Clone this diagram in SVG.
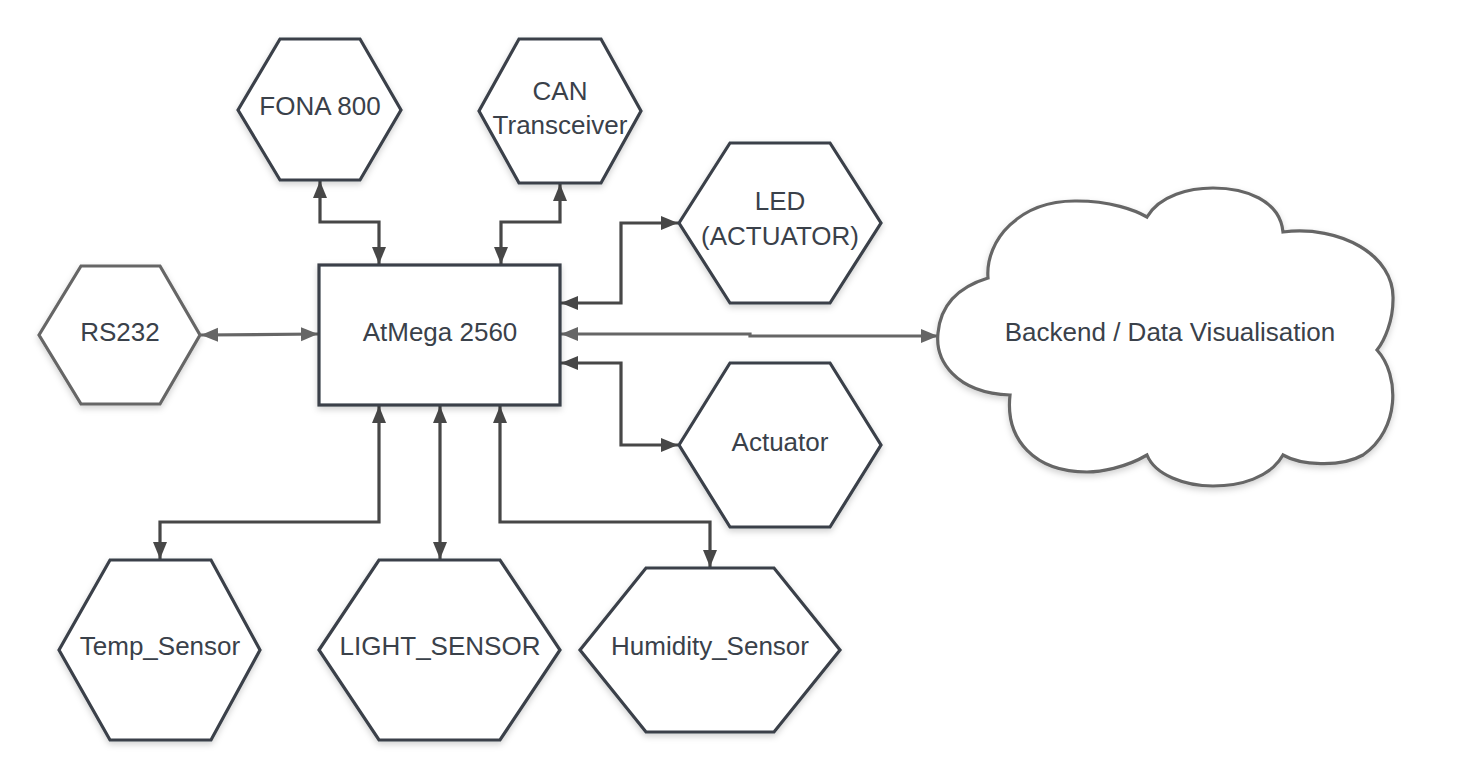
<svg xmlns="http://www.w3.org/2000/svg" width="1463" height="780" viewBox="0 0 1463 780">
<defs>
<style>
.shape{fill:#fff;stroke:#3a414a;stroke-width:3.2;stroke-linejoin:miter;filter:url(#sh)}
.gray{stroke:#666}
.lbl{font-family:"Liberation Sans",Arial,sans-serif;font-size:26px;fill:#3a414a;text-anchor:middle}
.conn{fill:none;stroke:#474747;stroke-width:3.2;marker-start:url(#ah);marker-end:url(#ah)}
.conn.g{stroke:#666;marker-start:url(#ahg);marker-end:url(#ahg)}
</style>
<filter id="sh" x="-10%" y="-10%" width="120%" height="130%">
<feDropShadow dx="0" dy="3" stdDeviation="3" flood-color="#000" flood-opacity="0.18"/>
</filter>
<marker id="ah" markerUnits="userSpaceOnUse" markerWidth="18" markerHeight="15" refX="17" refY="7" orient="auto-start-reverse">
<path d="M0,0 L17,7 L0,14 z" fill="#474747"/>
</marker>
<marker id="ahg" markerUnits="userSpaceOnUse" markerWidth="18" markerHeight="15" refX="17" refY="7" orient="auto-start-reverse">
<path d="M0,0 L17,7 L0,14 z" fill="#666"/>
</marker>
</defs>
<rect width="1463" height="780" fill="#fff"/>
<g id="connectors">
<path class="conn" d="M320,181 V222 H379 V264"/>
<path class="conn" d="M560,184 V222 H501 V264"/>
<path class="conn" d="M561,303 H621 V223 H678"/>
<path class="conn g" d="M561,334 H750 V336 H938"/>
<path class="conn" d="M561,363 H621 V445 H678"/>
<path class="conn g" d="M201,335 L318,334"/>
<path class="conn" d="M379,406 V522 H160 V559"/>
<path class="conn" d="M440,406 V559"/>
<path class="conn" d="M500,406 V522 H710 V567"/>
</g>
<g id="atmega">
<rect class="shape" x="319" y="265" width="241" height="140"/>
<text class="lbl" x="440" y="341">AtMega 2560</text>
</g>
<g id="fona">
<polygon class="shape" points="238,110 280,39 360,39 401,110 360,180 280,180"/>
<text class="lbl" x="320" y="115">FONA 800</text>
</g>
<g id="can">
<polygon class="shape" points="479,111 519,39 601,39 641,111 601,183 519,183"/>
<text class="lbl" x="560" y="100">CAN</text>
<text class="lbl" x="560" y="134">Transceiver</text>
</g>
<g id="led">
<polygon class="shape" points="679,223 730,143 830,143 881,223 830,303 730,303"/>
<text class="lbl" x="780" y="210">LED</text>
<text class="lbl" x="780" y="245">(ACTUATOR)</text>
</g>
<g id="actuator">
<polygon class="shape" points="679,445 730,363 830,363 881,445 830,527 730,527"/>
<text class="lbl" x="780" y="451">Actuator</text>
</g>
<g id="rs232">
<polygon class="shape gray" points="39,335 81,266 160,266 200,335 160,404 81,404"/>
<text class="lbl" x="120" y="341">RS232</text>
</g>
<g id="temp">
<polygon class="shape" points="59,650 110,560 211,560 260,650 211,740 110,740"/>
<text class="lbl" x="160" y="655">Temp_Sensor</text>
</g>
<g id="light">
<polygon class="shape" points="319,650 379,560 500,560 560,650 500,740 379,740"/>
<text class="lbl" x="440" y="655">LIGHT_SENSOR</text>
</g>
<g id="humidity">
<polygon class="shape" points="580,650 646,568 774,568 840,650 774,732 646,732"/>
<text class="lbl" x="710" y="655">Humidity_Sensor</text>
</g>
<g id="backend">
<path class="shape gray" d="M1010,395 C955,393 935,360 938,333 C941,300 965,285 988,278 C985,240 1020,200 1077,201 C1110,201 1135,210 1147,217 C1160,195 1190,188 1213,188 C1245,188 1280,200 1283,232 C1340,225 1395,255 1393,300 C1393,320 1385,340 1377,350 C1400,375 1400,430 1363,455 C1340,468 1300,465 1283,455 C1270,478 1240,486 1213,486 C1185,486 1155,475 1147,455 C1125,468 1100,472 1087,472 C1035,472 1005,440 1010,395 Z"/>
<text class="lbl" x="1170" y="341">Backend / Data Visualisation</text>
</g>
</svg>
